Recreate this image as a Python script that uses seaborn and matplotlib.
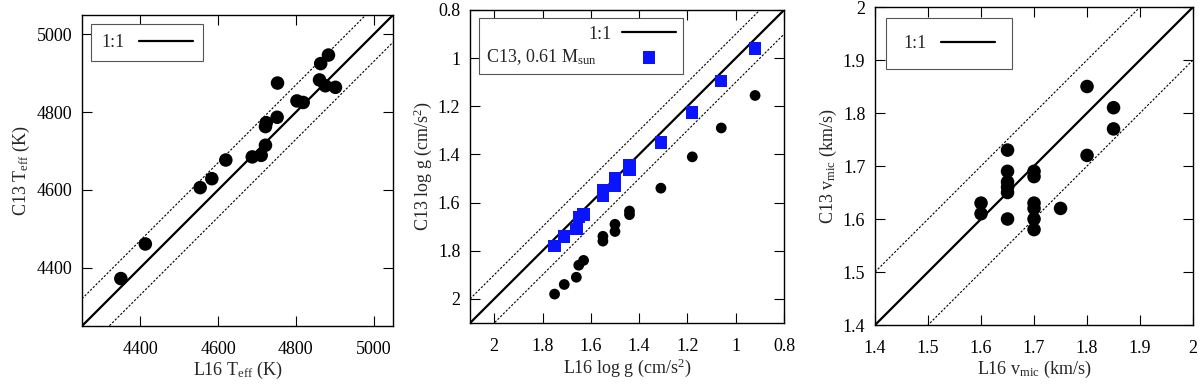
import numpy as np
import pandas as pd
import matplotlib
matplotlib.use("Agg")
import matplotlib.pyplot as plt
import seaborn as sns

# L16 vs C13 stellar parameters
teff_l16 = [4350, 4413, 4554, 4584, 4620, 4688, 4711, 4722, 4722, 4724,
            4752, 4753, 4803, 4819, 4861, 4864, 4884, 4876, 4902]
teff_c13 = [4372, 4461, 4606, 4629, 4677, 4685, 4689, 4715, 4763, 4773,
            4787, 4875, 4829, 4825, 4883, 4925, 4947, 4868, 4864]

logg_l16 = [1.75, 1.71, 1.66, 1.65, 1.63, 1.55, 1.55, 1.50, 1.50, 1.44,
            1.44, 1.31, 1.18, 1.06, 0.92]
logg_c13 = [1.98, 1.94, 1.91, 1.86, 1.84, 1.76, 1.74, 1.72, 1.69, 1.65,
            1.635, 1.54, 1.41, 1.29, 1.155]
logg_c13_061 = [1.78, 1.74, 1.71, 1.66, 1.65, 1.57, 1.55, 1.53, 1.50, 1.465,
                1.445, 1.35, 1.225, 1.095, 0.96]

vmic_l16 = [1.60, 1.60, 1.65, 1.65, 1.65, 1.65, 1.65, 1.65, 1.70, 1.70,
            1.70, 1.70, 1.70, 1.70, 1.75, 1.80, 1.80, 1.85, 1.85]
vmic_c13 = [1.63, 1.61, 1.73, 1.69, 1.67, 1.66, 1.65, 1.60, 1.69, 1.68,
            1.63, 1.62, 1.60, 1.58, 1.62, 1.85, 1.72, 1.81, 1.77]

teff_ticks = [4400, 4600, 4800, 5000]
logg_ticks = [2, 1.8, 1.6, 1.4, 1.2, 1, 0.8]
vmic_ticks = [1.4, 1.5, 1.6, 1.7, 1.8, 1.9, 2]

teff_offset = 70
logg_offset = 0.1
vmic_offset = 0.1

sns.set_theme(style="ticks")
plt.rcParams['font.family'] = ['Liberation Serif', 'DejaVu Serif']
plt.rcParams['mathtext.fontset'] = 'custom'
plt.rcParams['mathtext.rm'] = 'Liberation Serif'
plt.rcParams['mathtext.it'] = 'Liberation Serif:italic'
plt.rcParams['axes.edgecolor'] = 'black'
plt.rcParams['axes.linewidth'] = 1.0

FS = 13
fig = plt.figure(figsize=(12, 3.87), dpi=100)
ax1 = fig.add_axes([0.0683, 0.1576, 0.2592, 0.8036])
ax2 = fig.add_axes([0.3917, 0.1654, 0.2617, 0.8088])
ax3 = fig.add_axes([0.7292, 0.1602, 0.2650, 0.8217])


def style_axis(ax, lims, ticks, offset, xlabel, ylabel):
    lo, hi = lims
    ref = np.array([lo, hi])
    ax.plot(ref, ref, color='black', lw=1.6, label='1:1', zorder=2)
    ax.plot(ref, ref + offset, color='black', lw=0.8, ls=(0, (2, 1.5)), zorder=2)
    ax.plot(ref, ref - offset, color='black', lw=0.8, ls=(0, (2, 1.5)), zorder=2)
    ax.set_xlim(lo, hi)
    ax.set_ylim(lo, hi)
    ax.set_xticks(ticks)
    ax.set_yticks(ticks)
    ax.set_xticklabels([f"{t:g}" for t in ticks])
    ax.set_yticklabels([f"{t:g}" for t in ticks])
    ax.tick_params(direction='in', top=True, right=True, length=7, width=0.8,
                   labelsize=FS, colors='black')
    ax.tick_params(axis='x', pad=11)
    ax.tick_params(axis='y', pad=7)
    ax.set_xlabel(xlabel, fontsize=FS, labelpad=1)
    ax.set_ylabel(ylabel, fontsize=FS, labelpad=3)
    for s in ax.spines.values():
        s.set_visible(True)
        s.set_color('black')


legend_kw = dict(loc='upper left', markerfirst=False, fontsize=FS, frameon=True,
                 fancybox=False, edgecolor='#555555', framealpha=1,
                 handlelength=3.0, borderaxespad=0)

# Panel 1: Teff
df1 = pd.DataFrame({'l16': teff_l16, 'c13': teff_c13})
sns.scatterplot(data=df1, x='l16', y='c13', ax=ax1, color='black', s=95,
                edgecolor='none', zorder=3, legend=False)
style_axis(ax1, (4250, 5050), teff_ticks, teff_offset,
           r"L16 T$_{\rm eff}$ (K)", r"C13 T$_{\rm eff}$ (K)")
leg = ax1.legend(bbox_to_anchor=(0.03, 0.97), borderpad=0.55, **legend_kw)
leg.get_frame().set_linewidth(0.8)

# Panel 2: log g
df2 = pd.DataFrame({'l16': logg_l16, 'c13': logg_c13, 'c13_061': logg_c13_061})
sns.scatterplot(data=df2, x='l16', y='c13', ax=ax2, color='black', s=60,
                edgecolor='none', zorder=3, legend=False)
sns.scatterplot(data=df2, x='l16', y='c13_061', ax=ax2, color='#0a14ff',
                marker='s', s=80, edgecolor='none', zorder=4,
                label=r"C13, 0.61 M$_{\rm sun}$")
style_axis(ax2, (2.1, 0.8), logg_ticks, logg_offset,
           r"L16 log g (cm/s$^2$)", r"C13 log g (cm/s$^2$)")
handles, labels = ax2.get_legend_handles_labels()
order = [labels.index('1:1'), labels.index(r"C13, 0.61 M$_{\rm sun}$")]
leg = ax2.legend([handles[i] for i in order], [labels[i] for i in order],
                 bbox_to_anchor=(0.028, 0.973), borderpad=0.4,
                 labelspacing=0.25, handletextpad=1.4, **legend_kw)
leg.get_frame().set_linewidth(0.8)
# line up "1:1" with the right end of the mathtext label
leg.get_texts()[0].set_x(15)

# Panel 3: vmic
df3 = pd.DataFrame({'l16': vmic_l16, 'c13': vmic_c13})
sns.scatterplot(data=df3, x='l16', y='c13', ax=ax3, color='black', s=95,
                edgecolor='none', zorder=3, legend=False)
style_axis(ax3, (1.4, 2.0), vmic_ticks, vmic_offset,
           r"L16 v$_{\rm mic}$ (km/s)", r"C13 v$_{\rm mic}$ (km/s)")
leg = ax3.legend(bbox_to_anchor=(0.035, 0.965), borderpad=0.95, **legend_kw)
leg.get_frame().set_linewidth(0.8)

fig.savefig("out.png", dpi=100)
